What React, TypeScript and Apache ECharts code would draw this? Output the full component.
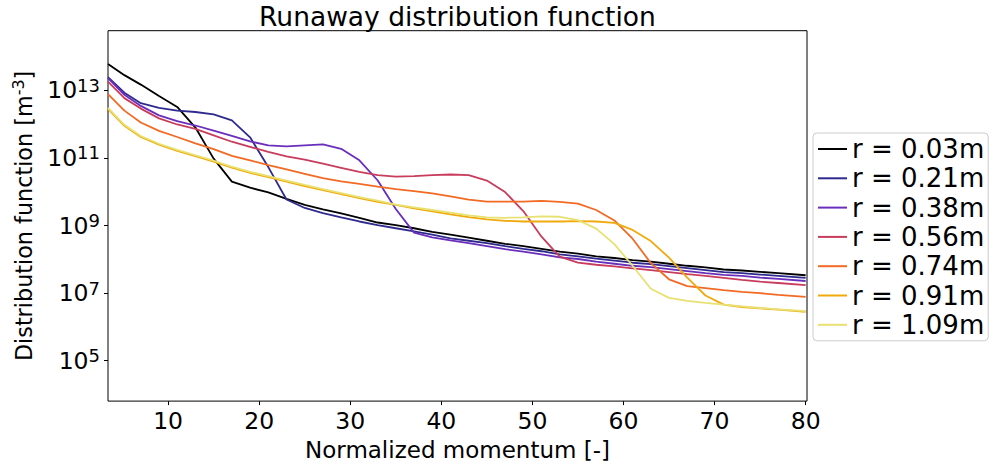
import React, { useEffect, useRef } from "react";
import * as echarts from "echarts";

// Normalized momentum [-] (shared x grid)
const momentum = [3.4, 5.2, 7, 9, 11, 13, 15, 17, 19, 21, 23, 25, 27, 29, 31, 33, 35, 37, 39, 41, 43, 45, 47, 49, 51, 53, 55, 57, 59, 61, 63, 65, 67, 69, 71, 73, 75, 77, 80];

// log10 of the runaway distribution function [m^-3], one array per radius
const logF_r003 = [13.78, 13.45, 13.17, 12.83, 12.51, 11.9, 10.98, 10.3, 10.12, 9.98, 9.79, 9.61, 9.48, 9.36, 9.23, 9.09, 9.01, 8.92, 8.81, 8.73, 8.64, 8.55, 8.46, 8.39, 8.31, 8.23, 8.17, 8.09, 8.04, 7.98, 7.93, 7.87, 7.81, 7.76, 7.7, 7.67, 7.63, 7.59, 7.53];
const logF_r021 = [13.39, 12.93, 12.62, 12.48, 12.4, 12.36, 12.29, 12.11, 11.61, 10.73, 9.77, 9.52, 9.37, 9.24, 9.12, 9.01, 8.92, 8.83, 8.73, 8.62, 8.55, 8.48, 8.39, 8.31, 8.24, 8.15, 8.09, 8.02, 7.96, 7.9, 7.86, 7.8, 7.74, 7.68, 7.62, 7.59, 7.55, 7.51, 7.45];
const logF_r038 = [13.36, 12.87, 12.54, 12.26, 12.09, 11.96, 11.81, 11.65, 11.49, 11.37, 11.34, 11.37, 11.4, 11.27, 10.93, 10.34, 9.49, 8.79, 8.65, 8.56, 8.48, 8.39, 8.3, 8.23, 8.15, 8.06, 8.01, 7.93, 7.87, 7.81, 7.77, 7.71, 7.65, 7.59, 7.54, 7.51, 7.46, 7.42, 7.36];
const logF_r056 = [13.26, 12.77, 12.46, 12.17, 11.99, 11.86, 11.67, 11.48, 11.33, 11.18, 11.05, 10.95, 10.83, 10.71, 10.59, 10.49, 10.45, 10.46, 10.49, 10.51, 10.49, 10.33, 9.99, 9.43, 8.67, 8.08, 7.9, 7.84, 7.79, 7.73, 7.68, 7.62, 7.56, 7.51, 7.45, 7.39, 7.34, 7.3, 7.24];
const logF_r074 = [12.89, 12.4, 12.05, 11.8, 11.62, 11.43, 11.26, 11.06, 10.93, 10.79, 10.66, 10.53, 10.4, 10.31, 10.23, 10.15, 10.08, 10.02, 9.95, 9.86, 9.77, 9.71, 9.71, 9.71, 9.73, 9.7, 9.65, 9.46, 9.15, 8.61, 7.89, 7.41, 7.21, 7.15, 7.09, 7.04, 7.0, 6.95, 6.89];
const logF_r091 = [12.45, 11.95, 11.62, 11.39, 11.21, 11.05, 10.89, 10.71, 10.56, 10.43, 10.3, 10.17, 10.05, 9.93, 9.81, 9.7, 9.61, 9.51, 9.42, 9.33, 9.25, 9.18, 9.14, 9.12, 9.12, 9.12, 9.13, 9.12, 9.08, 8.87, 8.54, 8.05, 7.46, 6.93, 6.66, 6.59, 6.55, 6.51, 6.45];
const logF_r109 = [12.48, 11.98, 11.65, 11.42, 11.24, 11.08, 10.92, 10.74, 10.59, 10.46, 10.33, 10.2, 10.08, 9.96, 9.84, 9.74, 9.62, 9.54, 9.46, 9.38, 9.3, 9.24, 9.23, 9.24, 9.27, 9.26, 9.16, 8.91, 8.45, 7.81, 7.13, 6.86, 6.77, 6.71, 6.66, 6.61, 6.56, 6.52, 6.47];

const seriesNames = ["r = 0.03m", "r = 0.21m", "r = 0.38m", "r = 0.56m", "r = 0.74m", "r = 0.91m", "r = 1.09m"];
const seriesValues = [logF_r003, logF_r021, logF_r038, logF_r056, logF_r074, logF_r091, logF_r109];
const seriesColors = ["#000000", "#2f2a8e", "#6a2ebc", "#c83c5c", "#f26a24", "#f0aa0c", "#e8e172"];

// tick labels
const xTicks = [10, 20, 30, 40, 50, 60, 70, 80];
const yTickExponents = [5, 7, 9, 11, 13];

const FONT = "DejaVu Sans";

export default function App() {
  const ref = useRef<HTMLDivElement>(null);

  useEffect(() => {
    if (!ref.current) return;
    const chart = echarts.init(ref.current, undefined, { renderer: "svg" });

    const series = seriesNames.map((name, s) => ({
      name,
      type: "line",
      data: momentum.map((x, i) => [x, seriesValues[s][i]]),
      showSymbol: false,
      symbol: "none",
      lineStyle: { color: seriesColors[s], width: 1.8 },
      itemStyle: { color: seriesColors[s] },
      clip: true,
    }));

    chart.setOption({
      animation: false,
      backgroundColor: "#ffffff",
      textStyle: { fontFamily: FONT },
      graphic: [
        {
          type: "text",
          style: {
            text: "Runaway distribution function",
            x: 457.5,
            y: 16,
            textAlign: "center",
            textVerticalAlign: "middle",
            fontSize: 26.5,
            fontFamily: FONT,
            fill: "#000",
          },
        },
      ],
      grid: {
        left: 108,
        right: 187,
        top: 30.7,
        bottom: 62.7,
        show: true,
        borderColor: "#000",
        borderWidth: 1,
        backgroundColor: "transparent",
      },
      legend: {
        orient: "vertical",
        left: 813,
        top: 133,
        padding: [3, 4, 3, 5],
        itemWidth: 29,
        itemHeight: 2,
        itemGap: 3.3,
        icon: "rect",
        borderColor: "#cccccc",
        borderWidth: 1,
        borderRadius: 4,
        backgroundColor: "#ffffff",
        textStyle: { fontSize: 26, fontFamily: FONT, color: "#000" },
        data: seriesNames,
      },
      xAxis: {
        type: "value",
        min: 3.4,
        max: 80.15,
        name: "Normalized momentum [-]",
        nameLocation: "middle",
        nameGap: 36,
        nameTextStyle: { fontSize: 23, fontFamily: FONT, color: "#000" },
        axisLine: { show: false },
        splitLine: { show: false },
        axisTick: { show: true, customValues: xTicks, length: 4, lineStyle: { color: "#000", width: 1 } },
        axisLabel: { customValues: xTicks, fontSize: 23.5, fontFamily: FONT, color: "#000", margin: 8 },
      },
      yAxis: {
        type: "value",
        min: 3.806,
        max: 14.765,
        name: "{a|Distribution function [m}{s|-3}{a|]}",
        nameLocation: "middle",
        nameRotate: 90,
        nameGap: 70,
        nameTextStyle: {
          rich: {
            a: { fontSize: 22.3, fontFamily: FONT, color: "#000", lineHeight: 28 },
            s: { fontSize: 16, fontFamily: FONT, color: "#000", lineHeight: 12, verticalAlign: "top" },
          },
        },
        axisLine: { show: false },
        splitLine: { show: false },
        axisTick: { show: true, customValues: yTickExponents, length: 4, lineStyle: { color: "#000", width: 1 } },
        axisLabel: {
          customValues: yTickExponents,
          margin: 8,
          formatter: (v: number) => `{b|10}{s|${Math.round(v)}}`,
          rich: {
            b: { fontSize: 23.5, fontFamily: FONT, color: "#000", lineHeight: 28 },
            s: { fontSize: 18, fontFamily: FONT, color: "#000", lineHeight: 12, verticalAlign: "top" },
          },
        },
      },
      series,
    });

    return () => chart.dispose();
  }, []);

  return (
    <div
      ref={ref}
      style={{ position: "fixed", left: 0, top: 0, width: 994, height: 466, background: "#fff" }}
    />
  );
}
